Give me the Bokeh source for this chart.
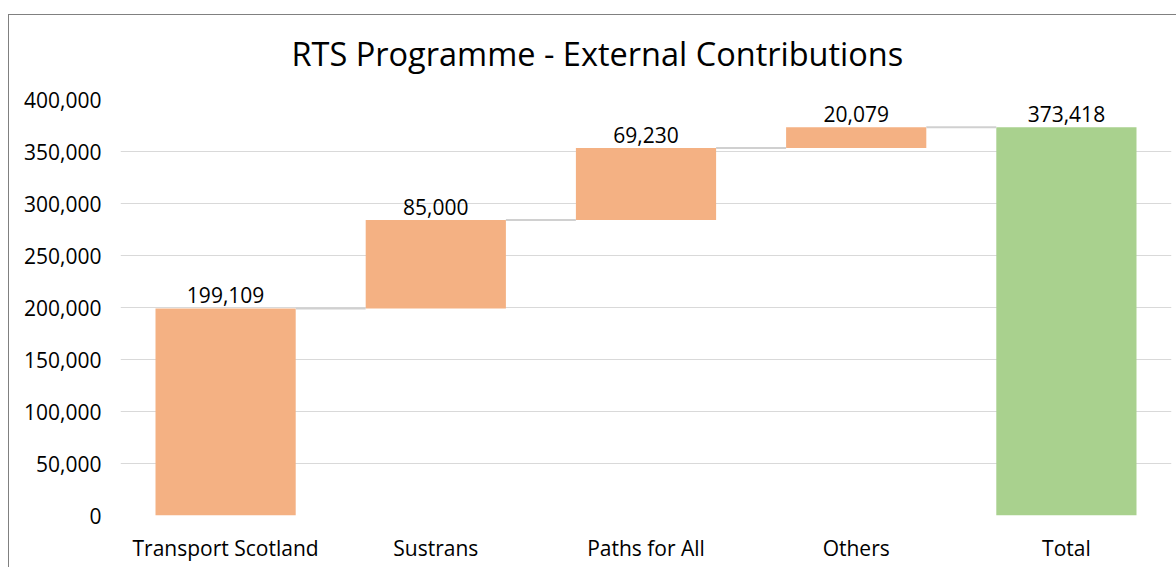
from bokeh.plotting import figure
from bokeh.models import FactorRange, Range1d, FixedTicker, NumeralTickFormatter, ColumnDataSource
from bokeh.core.properties import value
from bokeh.embed import file_html
from bokeh.resources import INLINE

# ---- data ----
title_text = "RTS Programme - External Contributions"
categories = ["Transport Scotland", "Sustrans", "Paths for All", "Others", "Total"]
contributions = [199109, 85000, 69230, 20079]
total = 373418
y_ticks = [0, 50000, 100000, 150000, 200000, 250000, 300000, 350000, 400000]

ORANGE = "#F4B183"
GREEN = "#A9D18E"
GRID = "#D9D9D9"
FONT = "Open Sans"

# build waterfall table from the data
bottoms, tops = [], []
run = 0
for v in contributions:
    bottoms.append(run)
    run += v
    tops.append(run)
bottoms.append(0)
tops.append(total)
vals = contributions + [total]
colors = [ORANGE] * len(contributions) + [GREEN]
labels = [f"{v:,}" for v in vals]

src = ColumnDataSource(dict(cat=categories, bottom=bottoms, top=tops,
                            color=colors, label=labels))

p = figure(x_range=FactorRange(*categories, range_padding=0),
           y_range=Range1d(0, 400000),
           width=1168, height=563, output_backend="svg", toolbar_location=None,
           min_border_left=112, min_border_right=5, min_border_top=95,
           min_border_bottom=52)
p.margin = (4, 0, 0, 8)
# chart-area border (top and left edges) drawn behind a transparent canvas
p.styles = {
    "background-color": "white",
    "background-image": "linear-gradient(#808080, #808080), linear-gradient(#808080, #808080)",
    "background-size": "100% 1px, 1px 100%",
    "background-position": "0 10px, 0 10px",
    "background-repeat": "no-repeat",
}
p.border_fill_color = None
p.outline_line_color = None
p.background_fill_color = "white"

# title
p.title.text = title_text
p.title.text_font = FONT
p.title.text_font_size = "32.5px"
p.title.text_font_style = "normal"
p.title.text_color = "#000000"
p.title.align = "left"
p.title.offset = 171
p.title.standoff = 47

# bars
p.vbar(x="cat", bottom="bottom", top="top", width=0.667, color="color",
       line_color=None, source=src)

# connectors between consecutive bars (synthetic categorical coords)
n = len(categories)
hw = 0.667 / 2
cx0 = [i + 0.5 + hw for i in range(n - 1)]
cx1 = [i + 1.5 - hw for i in range(n - 1)]
cy = tops[:n - 1]
p.segment(x0=cx0, y0=cy, x1=cx1, y1=cy, line_color="#D0D0D0", line_width=2)

# value labels
p.text(x="cat", y="top", text="label", source=src, text_align="center",
       text_baseline="alphabetic", y_offset=-13, text_font=value(FONT),
       text_font_size="21px", text_color="#000000")

# axes
p.yaxis.ticker = FixedTicker(ticks=y_ticks)
p.yaxis.formatter = NumeralTickFormatter(format="0,0")
for ax in (p.xaxis, p.yaxis):
    ax.axis_line_color = None
    ax.major_tick_line_color = None
    ax.minor_tick_line_color = None
    ax.major_label_text_font = FONT
    ax.major_label_text_font_size = "21px"
    ax.major_label_text_color = "#000000"
p.yaxis.major_label_standoff = 13
p.xaxis.major_label_standoff = 12
p.xgrid.grid_line_color = None
p.ygrid.grid_line_color = GRID
p.ygrid.grid_line_width = 1

open("out.html", "w").write(file_html(p, INLINE))
